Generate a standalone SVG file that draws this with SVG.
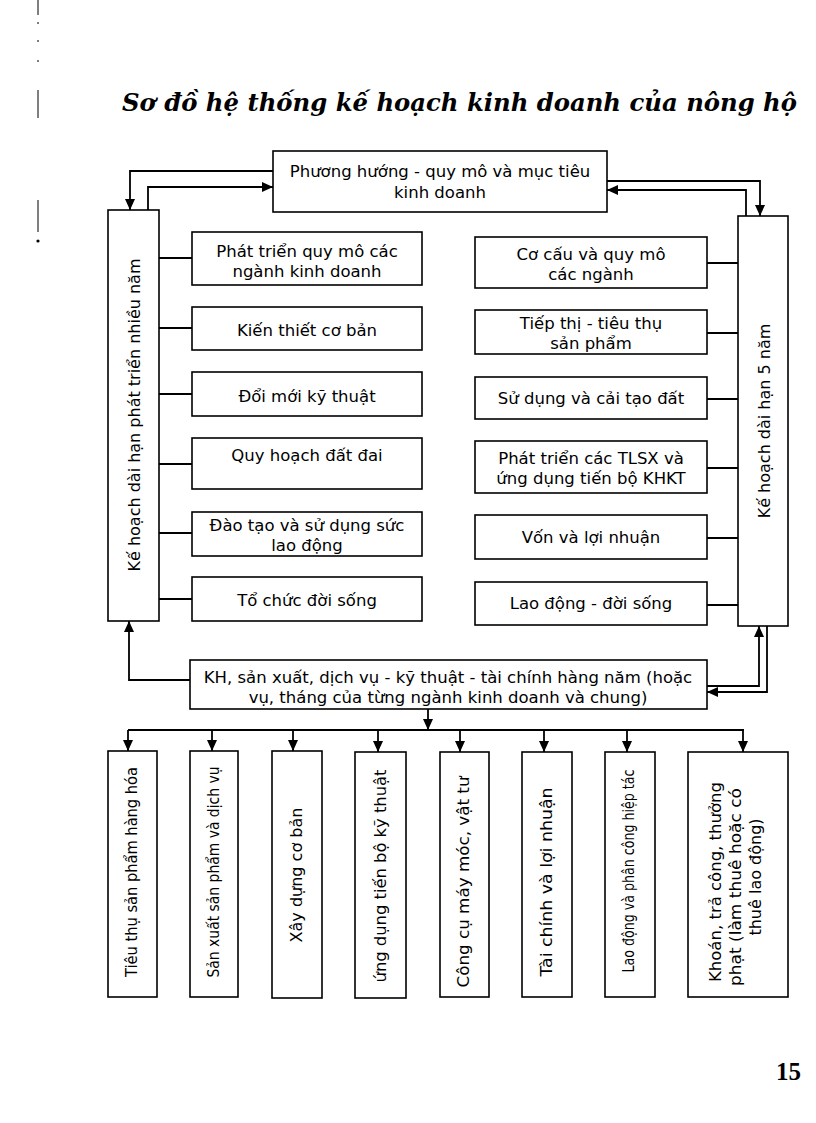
<svg xmlns="http://www.w3.org/2000/svg" width="816" height="1123" viewBox="0 0 816 1123">
<style>
.box{fill:#fff;stroke:#000;stroke-width:1.6}
.conn{fill:none;stroke:#000;stroke-width:1.8}
.t{font-family:"DejaVu Sans","Liberation Sans",sans-serif;font-size:16px;fill:#000;text-anchor:middle}
.h{font-size:16.5px}
.title{font-family:"DejaVu Serif","Liberation Serif",serif;font-weight:bold;font-style:italic;font-size:25px;fill:#000}
.pg{font-family:"Liberation Serif",serif;font-weight:bold;font-size:25px;fill:#000}
.mark{stroke:#000;stroke-width:1;fill:none}
</style>
<defs>
<marker id="arr" markerUnits="userSpaceOnUse" markerWidth="11" markerHeight="10" refX="11" refY="5" orient="auto">
<path d="M0,0 L11,5 L0,10 z" fill="#000"/>
</marker>
</defs>
<rect width="816" height="1123" fill="#fff"/>
<g id="scan-marks">
<path class="mark" d="M38,0 V15 M38,22 V24 M38,40 V42 M38,60 V62 M38,90 V118 M38,200 V232"/>
<circle cx="38" cy="241" r="1.6" fill="#000"/>
</g>
<text class="title" x="122" y="111" textLength="675" lengthAdjust="spacingAndGlyphs">Sơ đồ hệ thống kế hoạch kinh doanh của nông hộ</text>

<g id="connectors">
<path class="conn" d="M273,171 H130 V210" marker-end="url(#arr)"/>
<path class="conn" d="M148,210 V187 H273" marker-end="url(#arr)"/>
<path class="conn" d="M607,181 H760 V216" marker-end="url(#arr)"/>
<path class="conn" d="M746,216 V190 H607" marker-end="url(#arr)"/>
<path class="conn" d="M159,258 H192 M159,328 H192 M159,394 H192 M159,464 H192 M159,533 H192 M159,599 H192"/>
<path class="conn" d="M707,263 H738 M707,333 H738 M707,399 H738 M707,468 H738 M707,538 H738 M707,605 H738"/>
<path class="conn" d="M190,680 H129 V621" marker-end="url(#arr)"/>
<path class="conn" d="M707,686 H759 V626" marker-end="url(#arr)"/>
<path class="conn" d="M767,626 V692 H707" marker-end="url(#arr)"/>
<path class="conn" d="M428,709 V730" marker-end="url(#arr)"/>
<path class="conn" d="M128,730 H744"/>
<path class="conn" d="M128,730 V751" marker-end="url(#arr)"/>
<path class="conn" d="M212,730 V751" marker-end="url(#arr)"/>
<path class="conn" d="M293,730 V751" marker-end="url(#arr)"/>
<path class="conn" d="M378,730 V752" marker-end="url(#arr)"/>
<path class="conn" d="M460,730 V752" marker-end="url(#arr)"/>
<path class="conn" d="M544,730 V752" marker-end="url(#arr)"/>
<path class="conn" d="M627,730 V752" marker-end="url(#arr)"/>
<path class="conn" d="M743,730 V752" marker-end="url(#arr)"/>
</g>

<g id="n-top">
<rect class="box" x="273" y="151" width="334" height="61"/>
<text class="t h" x="440" y="177">Phương hướng - quy mô và mục tiêu</text>
<text class="t h" x="440" y="198">kinh doanh</text>
</g>
<g id="n-left">
<rect class="box" x="108" y="210" width="51" height="411"/>
<text class="t" transform="translate(140,415) rotate(-90)">Kế hoạch dài hạn phát triển nhiều năm</text>
</g>
<g id="n-right">
<rect class="box" x="738" y="216" width="50" height="410"/>
<text class="t" transform="translate(770,421) rotate(-90)">Kế hoạch dài hạn 5 năm</text>
</g>

<g id="n-l1"><rect class="box" x="192" y="232" width="230" height="53"/>
<text class="t h" x="307" y="257">Phát triển quy mô các</text><text class="t h" x="307" y="277">ngành kinh doanh</text></g>
<g id="n-l2"><rect class="box" x="192" y="307" width="230" height="43"/>
<text class="t h" x="307" y="336">Kiến thiết cơ bản</text></g>
<g id="n-l3"><rect class="box" x="192" y="372" width="230" height="44"/>
<text class="t h" x="307" y="402">Đổi mới kỹ thuật</text></g>
<g id="n-l4"><rect class="box" x="192" y="438" width="230" height="51"/>
<text class="t h" x="307" y="461">Quy hoạch đất đai</text></g>
<g id="n-l5"><rect class="box" x="192" y="512" width="230" height="44"/>
<text class="t h" x="307" y="531">Đào tạo và sử dụng sức</text><text class="t h" x="307" y="551">lao động</text></g>
<g id="n-l6"><rect class="box" x="192" y="577" width="230" height="44"/>
<text class="t h" x="307" y="606">Tổ chức đời sống</text></g>

<g id="n-r1"><rect class="box" x="475" y="237" width="232" height="51"/>
<text class="t h" x="591" y="260">Cơ cấu và quy mô</text><text class="t h" x="591" y="280">các ngành</text></g>
<g id="n-r2"><rect class="box" x="475" y="310" width="232" height="44"/>
<text class="t h" x="591" y="329">Tiếp thị - tiêu thụ</text><text class="t h" x="591" y="349">sản phẩm</text></g>
<g id="n-r3"><rect class="box" x="475" y="377" width="232" height="42"/>
<text class="t h" x="591" y="404">Sử dụng và cải tạo đất</text></g>
<g id="n-r4"><rect class="box" x="475" y="441" width="232" height="52"/>
<text class="t h" x="591" y="464">Phát triển các TLSX và</text><text class="t h" x="591" y="484">ứng dụng tiến bộ KHKT</text></g>
<g id="n-r5"><rect class="box" x="475" y="515" width="232" height="44"/>
<text class="t h" x="591" y="543">Vốn và lợi nhuận</text></g>
<g id="n-r6"><rect class="box" x="475" y="582" width="232" height="43"/>
<text class="t h" x="591" y="609">Lao động - đời sống</text></g>

<g id="n-kh"><rect class="box" x="190" y="660" width="517" height="49"/>
<text class="t h" x="448" y="683">KH, sản xuất, dịch vụ - kỹ thuật - tài chính hàng năm (hoặc</text>
<text class="t h" x="448" y="703">vụ, tháng của từng ngành kinh doanh và chung)</text></g>

<g id="n-b1"><rect class="box" x="108" y="751" width="49" height="246"/>
<text class="t" transform="translate(137,872) rotate(-90)" textLength="210" lengthAdjust="spacingAndGlyphs">Tiêu thụ sản phẩm hàng hóa</text></g>
<g id="n-b2"><rect class="box" x="190" y="751" width="48" height="246"/>
<text class="t" transform="translate(219,872) rotate(-90)" textLength="211" lengthAdjust="spacingAndGlyphs">Sản xuất sản phẩm và dịch vụ</text></g>
<g id="n-b3"><rect class="box" x="272" y="751" width="50" height="247"/>
<text class="t" transform="translate(302,875) rotate(-90)">Xây dựng cơ bản</text></g>
<g id="n-b4"><rect class="box" x="355" y="752" width="51" height="246"/>
<text class="t" transform="translate(386,876) rotate(-90)" textLength="213" lengthAdjust="spacingAndGlyphs">ứng dụng tiến bộ kỹ thuật</text></g>
<g id="n-b5"><rect class="box" x="440" y="752" width="49" height="245"/>
<text class="t" transform="translate(469,882) rotate(-90)" textLength="211" lengthAdjust="spacingAndGlyphs">Công cụ máy móc, vật tư</text></g>
<g id="n-b6"><rect class="box" x="522" y="752" width="50" height="245"/>
<text class="t" transform="translate(552,882) rotate(-90)" textLength="189" lengthAdjust="spacingAndGlyphs">Tài chính và lợi nhuận</text></g>
<g id="n-b7"><rect class="box" x="605" y="752" width="50" height="245"/>
<text class="t" transform="translate(634,871) rotate(-90)" textLength="203" lengthAdjust="spacingAndGlyphs">Lao động và phân công hiệp tác</text></g>
<g id="n-b8"><rect class="box" x="688" y="752" width="100" height="245"/>
<text class="t" transform="translate(721,882) rotate(-90)" textLength="200" lengthAdjust="spacingAndGlyphs">Khoán, trả công, thưởng</text>
<text class="t" transform="translate(741,887) rotate(-90)" textLength="198" lengthAdjust="spacingAndGlyphs">phạt (làm thuê hoặc có</text>
<text class="t" transform="translate(761,877) rotate(-90)">thuê lao động)</text></g>

<text class="pg" x="776" y="1080">15</text>
</svg>
